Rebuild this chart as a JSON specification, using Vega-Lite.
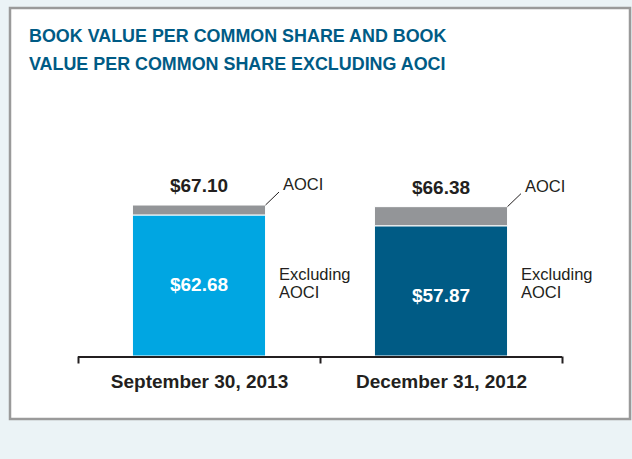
{
  "$schema": "https://vega.github.io/schema/vega-lite/v6.json",
  "width": 620,
  "height": 411,
  "autosize": {"type": "none"},
  "padding": {"left": 10, "top": 8, "right": 2, "bottom": 40},
  "background": "#ebf3f6",
  "config": {
    "font": "Liberation Sans",
    "view": {"fill": "white", "stroke": "#9a9a9a", "strokeWidth": 2.5}
  },
  "title": {
    "text": ["BOOK VALUE PER COMMON SHARE AND BOOK", "VALUE PER COMMON SHARE EXCLUDING AOCI"],
    "anchor": "start",
    "frame": "group",
    "orient": "top",
    "baseline": "top",
    "offset": 0,
    "dx": 19,
    "dy": 66,
    "fontSize": 17.9,
    "fontWeight": "bold",
    "color": "#005b85",
    "lineHeight": 28,
    "font": "Liberation Sans"
  },
  "data": {
    "values": [
      {"date": "September 30, 2013", "excl": 62.68, "total": 67.10},
      {"date": "December 31, 2012", "excl": 57.87, "total": 66.38}
    ]
  },
  "encoding": {
    "x": {
      "field": "date",
      "type": "nominal",
      "sort": null,
      "scale": {"type": "band", "domain": ["September 30, 2013", "December 31, 2012"], "paddingInner": 0, "paddingOuter": 0.281},
      "axis": {
        "title": null,
        "labelAngle": 0,
        "labelFont": "Liberation Sans",
        "labelFontWeight": "bold",
        "labelFontSize": 19,
        "labelColor": "#231f20",
        "labelPadding": 9,
        "domain": false,
        "ticks": true,
        "tickBand": "extent",
        "tickSize": 7,
        "tickWidth": 2,
        "tickColor": "#231f20",
        "grid": false,
        "offset": -63
      }
    }
  },
  "layer": [
    {
      "mark": {"type": "bar", "width": {"band": 0.55}, "stroke": "white", "strokeWidth": 1},
      "encoding": {
        "y": {"field": "excl", "type": "quantitative", "scale": {"domain": [-28, 154.667], "nice": false, "zero": false}, "axis": null},
        "y2": {"datum": 0},
        "color": {"field": "date", "type": "nominal", "scale": {"domain": ["September 30, 2013", "December 31, 2012"], "range": ["#00a6e2", "#005b85"]}, "legend": null}
      }
    },
    {
      "mark": {"type": "bar", "width": {"band": 0.55}, "stroke": "white", "strokeWidth": 1, "color": "#939598"},
      "encoding": {
        "y": {"field": "excl", "type": "quantitative"},
        "y2": {"field": "total"}
      }
    },
    {
      "mark": {"type": "rule", "xOffset": -121, "x2Offset": 121, "strokeWidth": 2, "color": "#231f20", "yOffset": 1, "y2Offset": 1},
      "encoding": {
        "x2": {"field": "date"},
        "y": {"datum": 0, "type": "quantitative"},
        "y2": {"datum": 0}
      }
    },
    {
      "mark": {"type": "text", "fontWeight": "bold", "fontSize": 19, "baseline": "alphabetic", "dy": -13, "color": "#231f20"},
      "encoding": {
        "y": {"field": "total", "type": "quantitative"},
        "text": {"field": "total", "type": "quantitative", "format": "$.2f"}
      }
    },
    {
      "mark": {"type": "text", "fontWeight": "bold", "fontSize": 19, "baseline": "middle", "dy": 70, "color": "white"},
      "encoding": {
        "y": {"field": "excl", "type": "quantitative"},
        "text": {"field": "excl", "type": "quantitative", "format": "$.2f"}
      }
    },
    {
      "mark": {"type": "text", "fontSize": 16.5, "align": "left", "baseline": "middle", "dx": 84, "dy": -20, "color": "#231f20"},
      "encoding": {
        "y": {"field": "total", "type": "quantitative"},
        "text": {"value": "AOCI"}
      }
    },
    {
      "mark": {"type": "rule", "xOffset": 66.5, "x2Offset": 80, "y2Offset": -13, "strokeWidth": 1, "color": "#231f20"},
      "encoding": {
        "x2": {"field": "date"},
        "y": {"field": "total", "type": "quantitative"},
        "y2": {"field": "total"}
      }
    },
    {
      "mark": {"type": "text", "fontSize": 16.5, "align": "left", "baseline": "middle", "dx": 80, "lineHeight": 18, "color": "#231f20"},
      "encoding": {
        "y": {"datum": 36, "type": "quantitative"},
        "text": {"value": ["Excluding", "AOCI"]}
      }
    }
  ]
}
